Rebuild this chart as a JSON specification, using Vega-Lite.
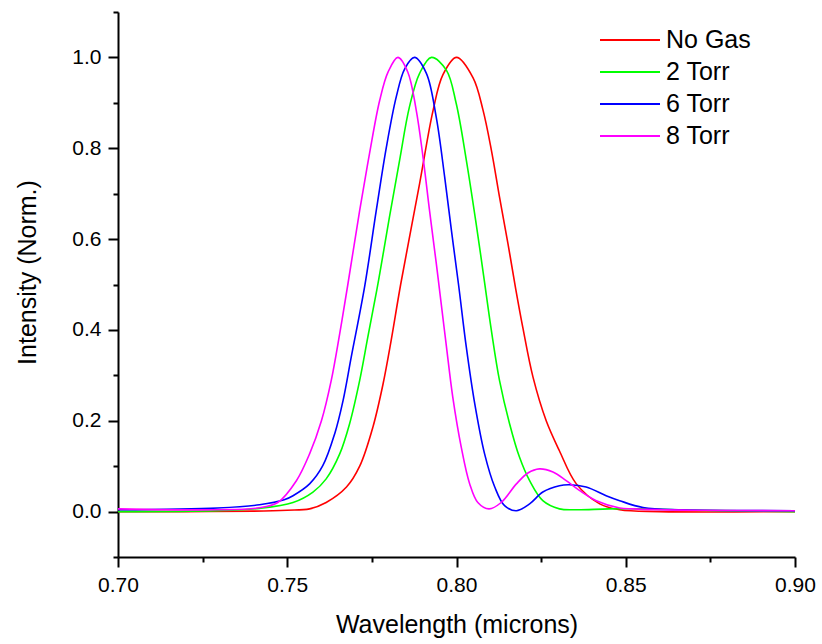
{
  "$schema": "https://vega.github.io/schema/vega-lite/v6.json",
  "autosize": {"type": "none"},
  "width": 677,
  "height": 545,
  "padding": {"left": 118, "top": 12, "right": 27, "bottom": 87},
  "background": "white",
  "config": {
    "view": {"stroke": null},
    "font": "Liberation Sans",
    "axis": {
      "domainColor": "black",
      "domainWidth": 2,
      "tickColor": "black",
      "tickWidth": 2,
      "grid": false,
      "labelFont": "Liberation Sans",
      "titleFont": "Liberation Sans",
      "labelColor": "black",
      "titleColor": "black",
      "labelFontSize": 21,
      "titleFontSize": 25,
      "titleFontWeight": "normal",
      "labelOverlap": false,
      "labelFlush": false
    }
  },
  "data": {
    "values": [
      {"s": "No Gas", "x": 0.700, "y": 0.000},
      {"s": "No Gas", "x": 0.720, "y": 0.000},
      {"s": "No Gas", "x": 0.740, "y": 0.001},
      {"s": "No Gas", "x": 0.750, "y": 0.003},
      {"s": "No Gas", "x": 0.7566, "y": 0.006},
      {"s": "No Gas", "x": 0.7615, "y": 0.020},
      {"s": "No Gas", "x": 0.7675, "y": 0.054},
      {"s": "No Gas", "x": 0.7714, "y": 0.100},
      {"s": "No Gas", "x": 0.7753, "y": 0.186},
      {"s": "No Gas", "x": 0.7783, "y": 0.281},
      {"s": "No Gas", "x": 0.7807, "y": 0.377},
      {"s": "No Gas", "x": 0.7835, "y": 0.500},
      {"s": "No Gas", "x": 0.7891, "y": 0.722},
      {"s": "No Gas", "x": 0.7931, "y": 0.884},
      {"s": "No Gas", "x": 0.7960, "y": 0.962},
      {"s": "No Gas", "x": 0.8000, "y": 1.000},
      {"s": "No Gas", "x": 0.8049, "y": 0.955},
      {"s": "No Gas", "x": 0.8078, "y": 0.885},
      {"s": "No Gas", "x": 0.8103, "y": 0.796},
      {"s": "No Gas", "x": 0.8127, "y": 0.693},
      {"s": "No Gas", "x": 0.8152, "y": 0.590},
      {"s": "No Gas", "x": 0.8175, "y": 0.490},
      {"s": "No Gas", "x": 0.8196, "y": 0.405},
      {"s": "No Gas", "x": 0.8226, "y": 0.296},
      {"s": "No Gas", "x": 0.8265, "y": 0.200},
      {"s": "No Gas", "x": 0.8304, "y": 0.134},
      {"s": "No Gas", "x": 0.8354, "y": 0.061},
      {"s": "No Gas", "x": 0.8423, "y": 0.017},
      {"s": "No Gas", "x": 0.8482, "y": 0.004},
      {"s": "No Gas", "x": 0.860, "y": 0.000},
      {"s": "No Gas", "x": 0.900, "y": 0.000},

      {"s": "2 Torr", "x": 0.700, "y": 0.000},
      {"s": "2 Torr", "x": 0.7294, "y": 0.002},
      {"s": "2 Torr", "x": 0.7418, "y": 0.007},
      {"s": "2 Torr", "x": 0.7517, "y": 0.020},
      {"s": "2 Torr", "x": 0.7576, "y": 0.043},
      {"s": "2 Torr", "x": 0.7615, "y": 0.072},
      {"s": "2 Torr", "x": 0.7655, "y": 0.127},
      {"s": "2 Torr", "x": 0.7684, "y": 0.193},
      {"s": "2 Torr", "x": 0.7714, "y": 0.289},
      {"s": "2 Torr", "x": 0.7738, "y": 0.384},
      {"s": "2 Torr", "x": 0.7770, "y": 0.510},
      {"s": "2 Torr", "x": 0.7802, "y": 0.649},
      {"s": "2 Torr", "x": 0.7832, "y": 0.774},
      {"s": "2 Torr", "x": 0.7861, "y": 0.891},
      {"s": "2 Torr", "x": 0.7891, "y": 0.965},
      {"s": "2 Torr", "x": 0.7926, "y": 1.000},
      {"s": "2 Torr", "x": 0.7970, "y": 0.972},
      {"s": "2 Torr", "x": 0.7999, "y": 0.899},
      {"s": "2 Torr", "x": 0.8029, "y": 0.774},
      {"s": "2 Torr", "x": 0.8058, "y": 0.634},
      {"s": "2 Torr", "x": 0.8080, "y": 0.520},
      {"s": "2 Torr", "x": 0.8103, "y": 0.399},
      {"s": "2 Torr", "x": 0.8127, "y": 0.289},
      {"s": "2 Torr", "x": 0.8157, "y": 0.193},
      {"s": "2 Torr", "x": 0.8186, "y": 0.120},
      {"s": "2 Torr", "x": 0.8216, "y": 0.068},
      {"s": "2 Torr", "x": 0.8255, "y": 0.024},
      {"s": "2 Torr", "x": 0.8304, "y": 0.006},
      {"s": "2 Torr", "x": 0.8354, "y": 0.004},
      {"s": "2 Torr", "x": 0.845, "y": 0.006},
      {"s": "2 Torr", "x": 0.855, "y": 0.006},
      {"s": "2 Torr", "x": 0.870, "y": 0.003},
      {"s": "2 Torr", "x": 0.900, "y": 0.000},

      {"s": "6 Torr", "x": 0.700, "y": 0.004},
      {"s": "6 Torr", "x": 0.7294, "y": 0.008},
      {"s": "6 Torr", "x": 0.7418, "y": 0.015},
      {"s": "6 Torr", "x": 0.7491, "y": 0.026},
      {"s": "6 Torr", "x": 0.7517, "y": 0.035},
      {"s": "6 Torr", "x": 0.7566, "y": 0.061},
      {"s": "6 Torr", "x": 0.7605, "y": 0.101},
      {"s": "6 Torr", "x": 0.7640, "y": 0.171},
      {"s": "6 Torr", "x": 0.7665, "y": 0.245},
      {"s": "6 Torr", "x": 0.7689, "y": 0.340},
      {"s": "6 Torr", "x": 0.7729, "y": 0.497},
      {"s": "6 Torr", "x": 0.7763, "y": 0.663},
      {"s": "6 Torr", "x": 0.7793, "y": 0.803},
      {"s": "6 Torr", "x": 0.7822, "y": 0.913},
      {"s": "6 Torr", "x": 0.7847, "y": 0.975},
      {"s": "6 Torr", "x": 0.7876, "y": 1.000},
      {"s": "6 Torr", "x": 0.7911, "y": 0.965},
      {"s": "6 Torr", "x": 0.7940, "y": 0.869},
      {"s": "6 Torr", "x": 0.7965, "y": 0.737},
      {"s": "6 Torr", "x": 0.7985, "y": 0.619},
      {"s": "6 Torr", "x": 0.8006, "y": 0.500},
      {"s": "6 Torr", "x": 0.8029, "y": 0.362},
      {"s": "6 Torr", "x": 0.8054, "y": 0.237},
      {"s": "6 Torr", "x": 0.8083, "y": 0.127},
      {"s": "6 Torr", "x": 0.8113, "y": 0.054},
      {"s": "6 Torr", "x": 0.8142, "y": 0.013},
      {"s": "6 Torr", "x": 0.8177, "y": 0.002},
      {"s": "6 Torr", "x": 0.8216, "y": 0.017},
      {"s": "6 Torr", "x": 0.8255, "y": 0.043},
      {"s": "6 Torr", "x": 0.8304, "y": 0.057},
      {"s": "6 Torr", "x": 0.8334, "y": 0.059},
      {"s": "6 Torr", "x": 0.8383, "y": 0.054},
      {"s": "6 Torr", "x": 0.8442, "y": 0.035},
      {"s": "6 Torr", "x": 0.8482, "y": 0.024},
      {"s": "6 Torr", "x": 0.8551, "y": 0.009},
      {"s": "6 Torr", "x": 0.8669, "y": 0.004},
      {"s": "6 Torr", "x": 0.900, "y": 0.002},

      {"s": "8 Torr", "x": 0.700, "y": 0.006},
      {"s": "8 Torr", "x": 0.7294, "y": 0.004},
      {"s": "8 Torr", "x": 0.7413, "y": 0.008},
      {"s": "8 Torr", "x": 0.7472, "y": 0.020},
      {"s": "8 Torr", "x": 0.7527, "y": 0.068},
      {"s": "8 Torr", "x": 0.7566, "y": 0.127},
      {"s": "8 Torr", "x": 0.7601, "y": 0.200},
      {"s": "8 Torr", "x": 0.7630, "y": 0.289},
      {"s": "8 Torr", "x": 0.7655, "y": 0.392},
      {"s": "8 Torr", "x": 0.7679, "y": 0.500},
      {"s": "8 Torr", "x": 0.7714, "y": 0.663},
      {"s": "8 Torr", "x": 0.7743, "y": 0.788},
      {"s": "8 Torr", "x": 0.7773, "y": 0.905},
      {"s": "8 Torr", "x": 0.7798, "y": 0.968},
      {"s": "8 Torr", "x": 0.7827, "y": 1.000},
      {"s": "8 Torr", "x": 0.7856, "y": 0.968},
      {"s": "8 Torr", "x": 0.7881, "y": 0.884},
      {"s": "8 Torr", "x": 0.7901, "y": 0.781},
      {"s": "8 Torr", "x": 0.7920, "y": 0.665},
      {"s": "8 Torr", "x": 0.7940, "y": 0.548},
      {"s": "8 Torr", "x": 0.7952, "y": 0.475},
      {"s": "8 Torr", "x": 0.7970, "y": 0.365},
      {"s": "8 Torr", "x": 0.7989, "y": 0.252},
      {"s": "8 Torr", "x": 0.8014, "y": 0.142},
      {"s": "8 Torr", "x": 0.8039, "y": 0.061},
      {"s": "8 Torr", "x": 0.8063, "y": 0.020},
      {"s": "8 Torr", "x": 0.8096, "y": 0.006},
      {"s": "8 Torr", "x": 0.8132, "y": 0.020},
      {"s": "8 Torr", "x": 0.8177, "y": 0.061},
      {"s": "8 Torr", "x": 0.8211, "y": 0.085},
      {"s": "8 Torr", "x": 0.8245, "y": 0.094},
      {"s": "8 Torr", "x": 0.8285, "y": 0.087},
      {"s": "8 Torr", "x": 0.8324, "y": 0.068},
      {"s": "8 Torr", "x": 0.8364, "y": 0.046},
      {"s": "8 Torr", "x": 0.8413, "y": 0.024},
      {"s": "8 Torr", "x": 0.8482, "y": 0.008},
      {"s": "8 Torr", "x": 0.8521, "y": 0.006},
      {"s": "8 Torr", "x": 0.870, "y": 0.003},
      {"s": "8 Torr", "x": 0.900, "y": 0.002}
    ]
  },
  "mark": {"type": "line", "interpolate": "catmull-rom", "strokeWidth": 1.6},
  "encoding": {
    "x": {
      "field": "x",
      "type": "quantitative",
      "scale": {"domain": [0.70, 0.90], "nice": false, "zero": false},
      "axis": {
        "title": "Wavelength (microns)",
        "values": [0.7, 0.725, 0.75, 0.775, 0.8, 0.825, 0.85, 0.875, 0.9],
        "labelExpr": "round(datum.value*1000) % 50 == 0 ? format(datum.value, '.2f') : ''",
        "tickSize": {"condition": {"test": "round(datum.value*1000) % 50 == 0", "value": 10}, "value": 5},
        "labelPadding": 7,
        "titleY": 75,
        "titleBaseline": "alphabetic"
      }
    },
    "y": {
      "field": "y",
      "type": "quantitative",
      "scale": {"domain": [-0.1, 1.1], "nice": false, "zero": false},
      "axis": {
        "title": "Intensity (Norm.)",
        "values": [-0.1, 0, 0.1, 0.2, 0.3, 0.4, 0.5, 0.6, 0.7, 0.8, 0.9, 1.0, 1.1],
        "labelExpr": "round(datum.value*10) % 2 == 0 ? format(datum.value, '.1f') : ''",
        "tickSize": {"condition": {"test": "round(datum.value*10) % 2 == 0", "value": 10}, "value": 5},
        "labelPadding": 7,
        "titleX": -83,
        "titleY": 260,
        "titleAngle": -90,
        "titleAlign": "center",
        "titleBaseline": "alphabetic"
      }
    },
    "color": {
      "field": "s",
      "type": "nominal",
      "sort": ["No Gas", "2 Torr", "6 Torr", "8 Torr"],
      "scale": {"domain": ["No Gas", "2 Torr", "6 Torr", "8 Torr"], "range": ["#ff0000", "#00ff00", "#0000ff", "#ff00ff"]},
      "legend": {
        "title": null,
        "orient": "none",
        "legendX": 481,
        "legendY": 12,
        "padding": 0,
        "symbolType": "stroke",
        "symbolSize": 3600,
        "symbolStrokeWidth": 2,
        "clipHeight": 32,
        "rowPadding": 0,
        "labelFont": "Liberation Sans",
        "labelFontSize": 25,
        "labelColor": "black",
        "labelOffset": 5,
        "labelLimit": 300
      }
    }
  }
}
